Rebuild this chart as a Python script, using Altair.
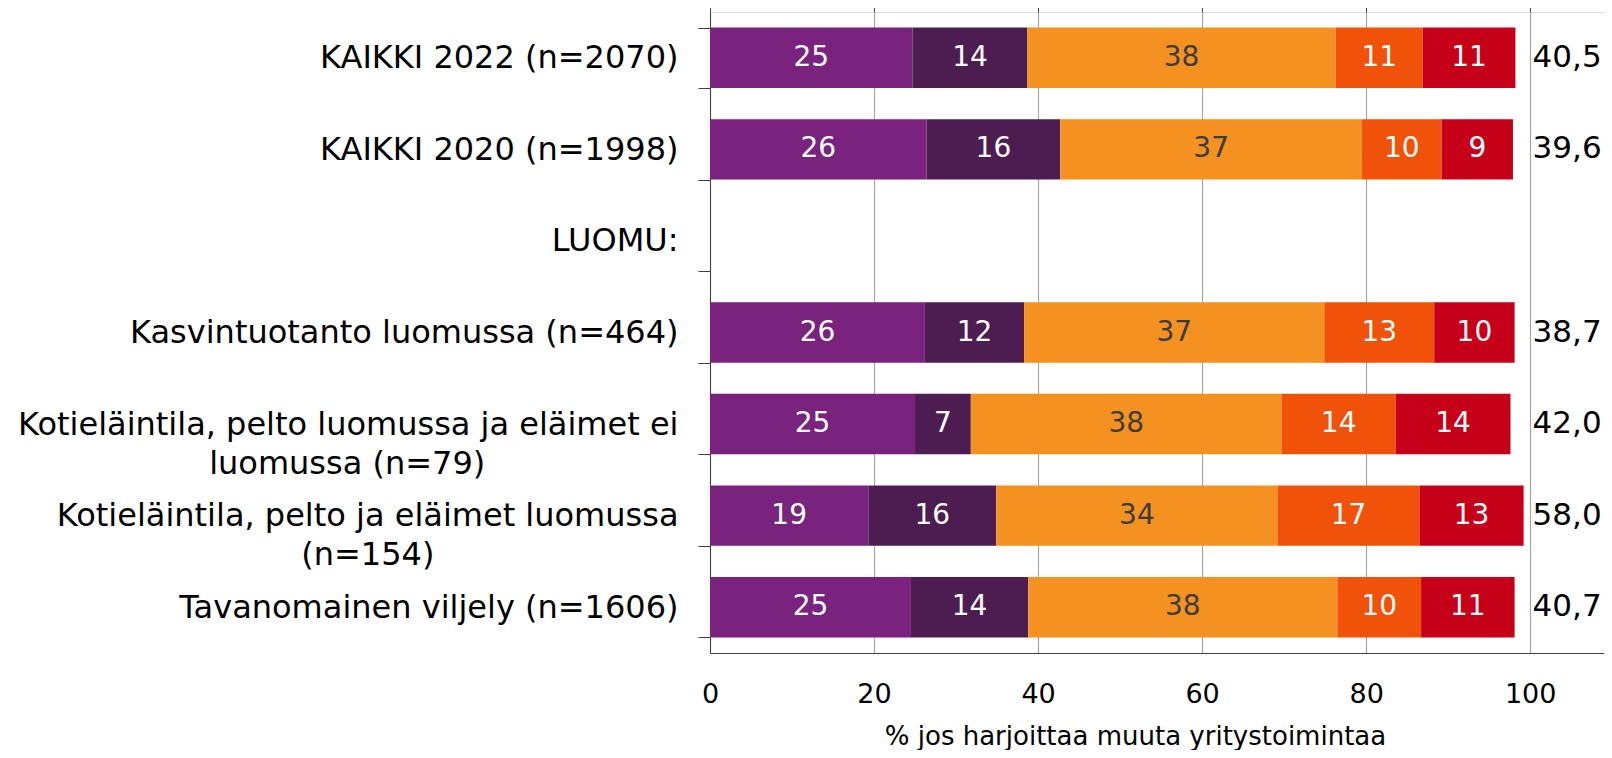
import altair as alt
import pandas as pd

categories = [
    "KAIKKI 2022 (n=2070)",
    "KAIKKI 2020 (n=1998)",
    "LUOMU:",
    "Kasvintuotanto luomussa (n=464)",
    "Kotieläintila, pelto luomussa ja eläimet ei luomussa (n=79)",
    "Kotieläintila, pelto ja eläimet luomussa (n=154)",
    "Tavanomainen viljely (n=1606)",
]
# two-line labels as shown in the picture (second line centred under the first)
label_lines = {
    "Kotieläintila, pelto luomussa ja eläimet ei luomussa (n=79)":
        ["Kotieläintila, pelto luomussa ja eläimet ei", "luomussa (n=79)"],
    "Kotieläintila, pelto ja eläimet luomussa (n=154)":
        ["Kotieläintila, pelto ja eläimet luomussa", "(n=154)"],
}
centre_pad = {
    "Kotieläintila, pelto luomussa ja eläimet ei luomussa (n=79)": 19,
    "Kotieläintila, pelto ja eläimet luomussa (n=154)": 24,
}

series = ["Sarja 1", "Sarja 2", "Sarja 3", "Sarja 4", "Sarja 5"]
colors = ["#7A237E", "#4D1D52", "#F59120", "#EF5208", "#C7001A"]

s1 = [24.7, 26.4, None, 26.2, 25.0, 19.3, 24.5]
s2 = [14.0, 16.3, None, 12.1, 6.8, 15.6, 14.3]
s3 = [37.6, 36.8, None, 36.6, 37.9, 34.3, 37.7]
s4 = [10.6, 9.7, None, 13.4, 13.9, 17.3, 10.2]
s5 = [11.3, 8.7, None, 9.8, 14.0, 12.7, 11.4]
totals = [40.5, 39.6, None, 38.7, 42.0, 58.0, 40.7]

rows = []
for si, (name, vals) in enumerate(zip(series, [s1, s2, s3, s4, s5])):
    for cat, v in zip(categories, vals):
        if v is not None:
            rows.append({"category": cat, "series": name, "order": si, "value": v})
df = pd.DataFrame(rows)
tot_df = pd.DataFrame([{"category": c, "total": t} for c, t in zip(categories, totals) if t is not None])

FONT = "DejaVu Sans"
XMAX = 109
xscale = alt.Scale(domain=[0, XMAX], nice=False, zero=True)
yscale = alt.Scale(domain=categories, paddingInner=0.34, paddingOuter=0.17)

# label expression (non-breaking spaces, closed by a zero-width char so they are not trimmed)
parts = []
for cat, lines in label_lines.items():
    l2 = lines[1] + "\u00a0" * centre_pad[cat] + "\u200b"
    parts.append(f"datum.label == '{cat}' ? ['{lines[0]}', '{l2}']")
label_expr = " : ".join(parts) + " : datum.label"

yenc = alt.Y(
    "category:N",
    sort=categories,
    scale=yscale,
    axis=alt.Axis(
        title=None,
        tickBand="extent",
        tickSize=12,
        tickColor="#404040",
        domainColor="#404040",
        labelFontSize=32,
        labelColor="black",
        labelPadding=20,
        labelLimit=1000,
        labelLineHeight=39,
        labelExpr=label_expr,
    ),
)

base = alt.Chart(df).transform_stack(
    stack="value", groupby=["category"], as_=["x0", "x1"], sort=[alt.SortField("order")]
)

bars = base.mark_bar().encode(
    y=yenc,
    x=alt.X(
        "x0:Q",
        scale=xscale,
        axis=alt.Axis(
            values=[0, 20, 40, 60, 80, 100],
            grid=True,
            gridColor="#A6A6A6",
            gridWidth=1.2,
            ticks=False,
            domainColor="#404040",
            labelFontSize=27,
            labelColor="black",
            labelPadding=28,
            labelFlush=False,
            title="% jos harjoittaa muuta yritystoimintaa",
            titleFontSize=26,
            titleFontWeight="normal",
            titleColor="black",
            titlePadding=16,
            titleX=425,
        ),
    ),
    x2="x1:Q",
    color=alt.Color("series:N", scale=alt.Scale(domain=series, range=colors), legend=None),
)

labels = base.transform_calculate(
    mid="(datum.x0 + datum.x1) / 2"
).mark_text(fontSize=28, font=FONT).encode(
    y=alt.Y("category:N", sort=categories, scale=yscale),
    x=alt.X(
        "mid:Q",
        scale=xscale,
        axis=alt.Axis(
            orient="top",
            values=[0, 20, 40, 60, 80, 100],
            labels=False,
            domain=False,
            grid=False,
            ticks=True,
            tickSize=5,
            tickColor="#404040",
            title=None,
        ),
    ),
    text=alt.Text("value:Q", format=".0f"),
    color=alt.condition(alt.datum.series == series[2], alt.value("#3C3C3C"), alt.value("white")),
)

tot = alt.Chart(tot_df).transform_calculate(
    lab="replace(format(datum.total, '.1f'), '.', ',')"
).mark_text(fontSize=31, font=FONT, color="black").encode(
    y=alt.Y("category:N", sort=categories, scale=yscale),
    x=alt.X(datum=104.5, scale=xscale, axis=None),
    text="lab:N",
)

chart = alt.layer(bars, labels, tot).resolve_axis(x="independent").properties(
    width=894,
    height=641,
    autosize=alt.AutoSizeParams(type="none"),
    padding={"left": 702, "top": 4, "right": 0, "bottom": 97},
).configure_view(
    stroke="#404040", strokeWidth=1
).configure(font=FONT).configure_text(font=FONT)

chart.save("out.html", embed_options={"renderer": "svg", "actions": False})
